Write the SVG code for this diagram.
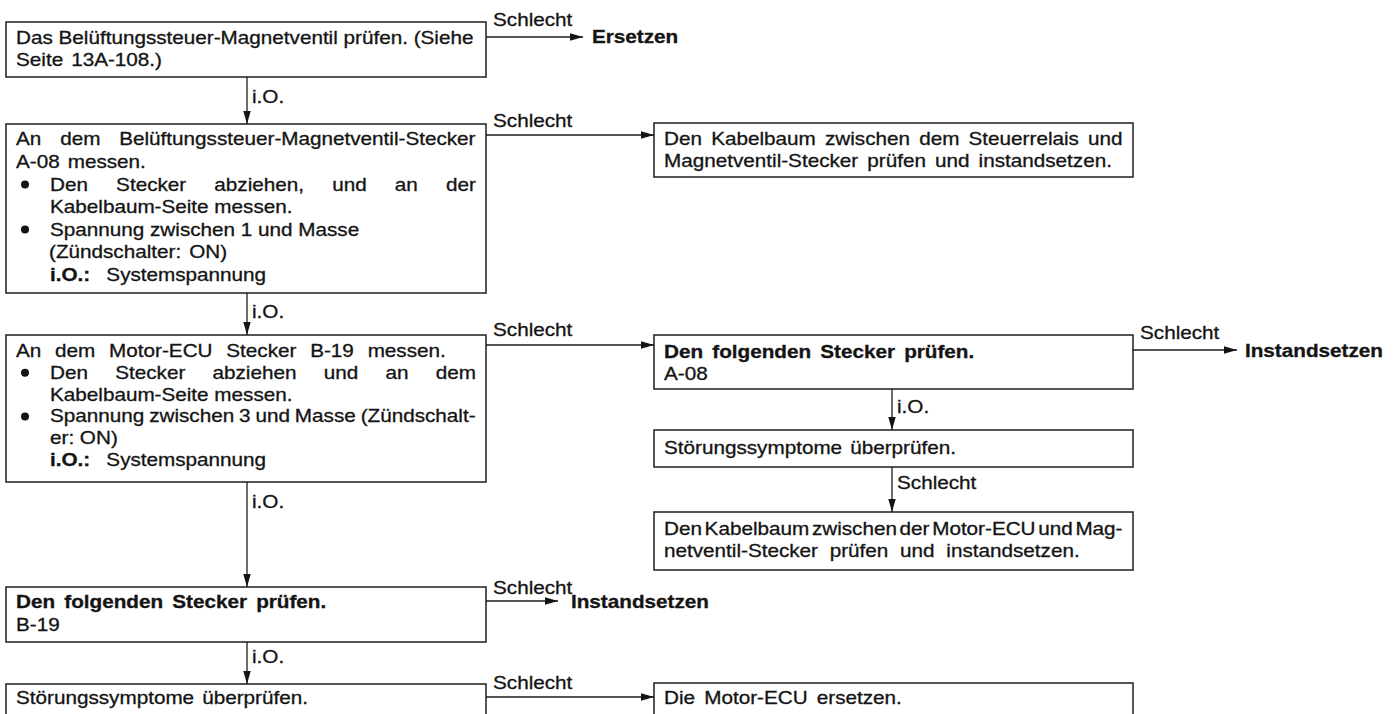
<svg xmlns="http://www.w3.org/2000/svg" width="1400" height="714" viewBox="0 0 1400 714">
  <style>
    .t { font-family: "Liberation Sans", Arial, Helvetica, sans-serif; font-size: 18px; fill: #141414; stroke: #141414; stroke-width: 0.3px; }
    .b { font-weight: bold; }
    .box { fill: #fff; stroke: #1e1e1e; stroke-width: 1.5; }
    .ln { fill: none; stroke: #1e1e1e; stroke-width: 1.3; }
    .dot { fill: #141414; }
  </style>
  <defs>
    <marker id="ah" markerUnits="userSpaceOnUse" markerWidth="13" markerHeight="8" refX="13" refY="4" orient="auto">
      <path d="M0,0.3 L13,4 L0,7.7 z" fill="#141414"/>
    </marker>
  </defs>
  <rect width="1400" height="714" fill="#fff"/>

  <!-- connectors: arrows with their branch labels -->
  <g id="connectors">
    <line class="ln" x1="486" y1="37" x2="583" y2="37" marker-end="url(#ah)"/>
    <text class="t" transform="translate(493 26) scale(1.15 1)">Schlecht</text>
    <text class="t b" transform="translate(592 43) scale(1.15 1)">Ersetzen</text>

    <line class="ln" x1="247" y1="77" x2="247" y2="124" marker-end="url(#ah)"/>
    <text class="t" transform="translate(252 103) scale(1.15 1)">i.O.</text>

    <line class="ln" x1="486" y1="135" x2="654" y2="135" marker-end="url(#ah)"/>
    <text class="t" transform="translate(493 127) scale(1.15 1)">Schlecht</text>

    <line class="ln" x1="247" y1="293" x2="247" y2="335" marker-end="url(#ah)"/>
    <text class="t" transform="translate(252 318) scale(1.15 1)">i.O.</text>

    <line class="ln" x1="486" y1="345" x2="654" y2="345" marker-end="url(#ah)"/>
    <text class="t" transform="translate(493 336) scale(1.15 1)">Schlecht</text>

    <line class="ln" x1="1133" y1="350" x2="1237" y2="350" marker-end="url(#ah)"/>
    <text class="t" transform="translate(1140 339) scale(1.15 1)">Schlecht</text>
    <text class="t b" transform="translate(1245 357) scale(1.15 1)">Instandsetzen</text>

    <line class="ln" x1="892" y1="389" x2="892" y2="430" marker-end="url(#ah)"/>
    <text class="t" transform="translate(897 413) scale(1.15 1)">i.O.</text>

    <line class="ln" x1="892" y1="467" x2="892" y2="512" marker-end="url(#ah)"/>
    <text class="t" transform="translate(897 489) scale(1.15 1)">Schlecht</text>

    <line class="ln" x1="247" y1="482" x2="247" y2="587" marker-end="url(#ah)"/>
    <text class="t" transform="translate(252 508) scale(1.15 1)">i.O.</text>

    <line class="ln" x1="486" y1="601" x2="558" y2="601" marker-end="url(#ah)"/>
    <text class="t" transform="translate(493 594) scale(1.15 1)">Schlecht</text>
    <text class="t b" transform="translate(571 608) scale(1.15 1)">Instandsetzen</text>

    <line class="ln" x1="247" y1="642" x2="247" y2="684" marker-end="url(#ah)"/>
    <text class="t" transform="translate(252 663) scale(1.15 1)">i.O.</text>

    <line class="ln" x1="486" y1="697" x2="654" y2="697" marker-end="url(#ah)"/>
    <text class="t" transform="translate(493 689) scale(1.15 1)">Schlecht</text>
  </g>

  <!-- left column -->
  <g id="n1">
    <rect class="box" x="6" y="22" width="480" height="55"/>
    <text class="t" transform="translate(16 44) scale(1.15 1)">Das Belüftungssteuer-Magnetventil prüfen. (Siehe</text>
    <text class="t" transform="translate(16 66) scale(1.15 1)" word-spacing="2">Seite 13A-108.)</text>
  </g>

  <g id="n2">
    <rect class="box" x="6" y="124" width="480" height="169"/>
    <text class="t" transform="translate(16 145) scale(1.15 1)" word-spacing="11.4">An dem Belüftungssteuer-Magnetventil-Stecker</text>
    <text class="t" transform="translate(16 168) scale(1.15 1)" word-spacing="2">A-08 messen.</text>
    <circle class="dot" cx="25" cy="184.5" r="4"/>
    <text class="t" transform="translate(50 190.5) scale(1.15 1)" word-spacing="19.5">Den Stecker abziehen, und an der</text>
    <text class="t" transform="translate(50 213) scale(1.15 1)">Kabelbaum-Seite messen.</text>
    <circle class="dot" cx="25" cy="229.5" r="4"/>
    <text class="t" transform="translate(50 235.5) scale(1.15 1)">Spannung zwischen 1 und Masse</text>
    <text class="t" transform="translate(49 258) scale(1.15 1)" word-spacing="2">(Zündschalter: ON)</text>
    <text class="t" transform="translate(50 280.5) scale(1.15 1)"><tspan class="b">i.O.:</tspan><tspan x="49">Systemspannung</tspan></text>
  </g>

  <g id="n3">
    <rect class="box" x="6" y="335" width="480" height="147"/>
    <text class="t" transform="translate(16 357) scale(1.15 1)" word-spacing="7">An dem Motor-ECU Stecker B-19 messen.</text>
    <circle class="dot" cx="25" cy="372.8" r="4"/>
    <text class="t" transform="translate(50 378.8) scale(1.15 1)" word-spacing="18.7">Den Stecker abziehen und an dem</text>
    <text class="t" transform="translate(50 400.6) scale(1.15 1)">Kabelbaum-Seite messen.</text>
    <circle class="dot" cx="25" cy="416.4" r="4"/>
    <text class="t" transform="translate(50 422.4) scale(1.15 1)" word-spacing="-0.75">Spannung zwischen 3 und Masse (Zündschalt-</text>
    <text class="t" transform="translate(50 444.2) scale(1.15 1)">er: ON)</text>
    <text class="t" transform="translate(50 466) scale(1.15 1)"><tspan class="b">i.O.:</tspan><tspan x="49">Systemspannung</tspan></text>
  </g>

  <g id="n4">
    <rect class="box" x="6" y="587" width="480" height="55"/>
    <text class="t b" transform="translate(16 608) scale(1.15 1)" word-spacing="3">Den folgenden Stecker prüfen.</text>
    <text class="t" transform="translate(16 631) scale(1.15 1)">B-19</text>
  </g>

  <g id="n5">
    <rect class="box" x="6" y="684" width="480" height="50"/>
    <text class="t" transform="translate(16 704) scale(1.15 1)" word-spacing="2">Störungssymptome überprüfen.</text>
  </g>

  <!-- right column -->
  <g id="nA">
    <rect class="box" x="654" y="123" width="479" height="54"/>
    <text class="t" transform="translate(664 145) scale(1.15 1)" word-spacing="3">Den Kabelbaum zwischen dem Steuerrelais und</text>
    <text class="t" transform="translate(664 167) scale(1.15 1)" word-spacing="2.9">Magnetventil-Stecker prüfen und instandsetzen.</text>
  </g>

  <g id="nB">
    <rect class="box" x="654" y="335" width="479" height="54"/>
    <text class="t b" transform="translate(664 358) scale(1.15 1)" word-spacing="3">Den folgenden Stecker prüfen.</text>
    <text class="t" transform="translate(664 380) scale(1.15 1)">A-08</text>
  </g>

  <g id="nC">
    <rect class="box" x="654" y="430" width="479" height="37"/>
    <text class="t" transform="translate(664 454) scale(1.15 1)" word-spacing="2">Störungssymptome überprüfen.</text>
  </g>

  <g id="nD">
    <rect class="box" x="654" y="512" width="479" height="58"/>
    <text class="t" transform="translate(664 535) scale(1.15 1)" word-spacing="-2.67">Den Kabelbaum zwischen der Motor-ECU und Mag-</text>
    <text class="t" transform="translate(664 557) scale(1.15 1)" word-spacing="5.2">netventil-Stecker prüfen und instandsetzen.</text>
  </g>

  <g id="nE">
    <rect class="box" x="654" y="683" width="479" height="50"/>
    <text class="t" transform="translate(664 704) scale(1.15 1)" word-spacing="3">Die Motor-ECU ersetzen.</text>
  </g>
</svg>
